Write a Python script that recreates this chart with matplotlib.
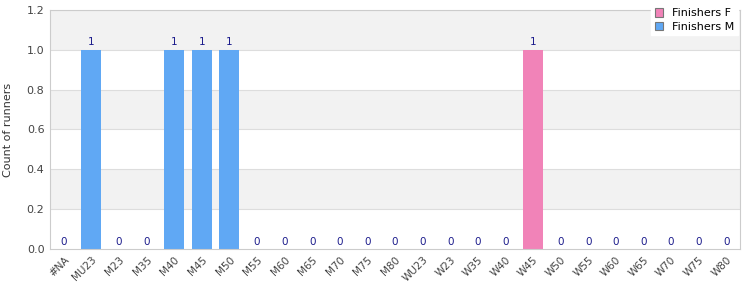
import matplotlib
matplotlib.use("Agg")
import matplotlib.pyplot as plt
import numpy as np

categories = ["#NA", "MU23", "M23", "M35", "M40", "M45", "M50", "M55", "M60", "M65",
              "M70", "M75", "M80", "WU23", "W23", "W35", "W40", "W45", "W50", "W55",
              "W60", "W65", "W70", "W75", "W80"]
finishers_f = [0, 0, 0, 0, 0, 0, 0, 0, 0, 0, 0, 0, 0, 0, 0, 0, 0, 1, 0, 0, 0, 0, 0, 0, 0]
finishers_m = [0, 1, 0, 0, 1, 1, 1, 0, 0, 0, 0, 0, 0, 0, 0, 0, 0, 0, 0, 0, 0, 0, 0, 0, 0]
yticks = [0.0, 0.2, 0.4, 0.6, 0.8, 1.0, 1.2]

fig = plt.figure(figsize=(7.5, 3), dpi=100)
ax = fig.add_axes([0.0667, 0.17, 0.92, 0.7967])

x = np.arange(len(categories))
f = np.array(finishers_f)
m = np.array(finishers_m)

# alternating bands
for i in range(len(yticks) - 1):
    if i % 2 == 1:
        ax.axhspan(yticks[i], yticks[i + 1], color="#f2f2f2", zorder=0, lw=0)
    ax.axhline(yticks[i + 1], color="#dddddd", lw=0.8, zorder=0.5)

ax.bar(x, f, width=0.72, color="#f183b8", label="Finishers F", zorder=2)
ax.bar(x, m, width=0.72, bottom=f, color="#60a8f4", label="Finishers M", zorder=2)

tot = f + m
for xi, t in zip(x, tot):
    ax.text(xi, t + 0.012, str(int(t)), ha="center", va="bottom", fontsize=7.5, color="#1c1c8c", zorder=3)

ax.set_xlim(-0.5, len(categories) - 0.5)
ax.set_ylim(0, 1.2)
ax.set_yticks(yticks)
ax.set_yticklabels([f"{v:.1f}" for v in yticks], fontsize=8, color="#444444")
ax.set_xticks(x)
ax.set_xticklabels(categories, rotation=45, ha="right", rotation_mode="anchor", fontsize=7.5, color="#444444")
ax.tick_params(axis="both", length=0, pad=4)
ax.set_ylabel("Count of runners", fontsize=8, color="#333333", labelpad=10)
for s in ax.spines.values():
    s.set_color("#cccccc")
    s.set_linewidth(0.8)

leg = ax.legend(loc="upper right", bbox_to_anchor=(1.005, 1.045), fontsize=8, frameon=True,
                fancybox=False, framealpha=1, edgecolor="white", handlelength=0.8, handleheight=0.8,
                borderpad=0.3, labelspacing=0.3)
for h in leg.legend_handles:
    h.set_edgecolor("#777777")
    h.set_linewidth(0.8)
leg.set_zorder(5)

fig.savefig("out.png", dpi=100)
